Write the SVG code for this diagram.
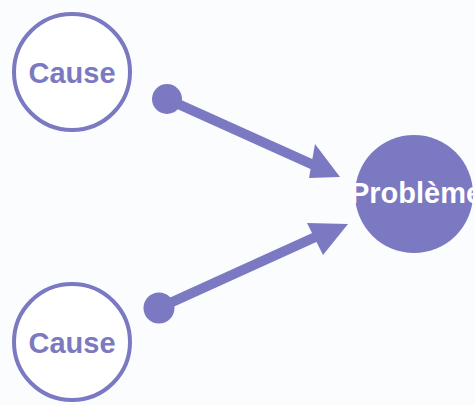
<svg xmlns="http://www.w3.org/2000/svg" width="475" height="405" viewBox="0 0 475 405">
<style>
.cause{fill:#ffffff;stroke:#7b79c1;stroke-width:4}
.lbl{font-family:"Liberation Sans",Arial,sans-serif;font-weight:bold;font-size:29px;text-anchor:middle}
.c{fill:#7b79c1}
.w{fill:#ffffff}
.shaft{stroke:#7b79c1;stroke-width:10;fill:none}
.head{fill:#7b79c1}
</style>
<rect width="475" height="405" fill="#fbfcfe"/>
<g id="cause1">
<circle class="cause" cx="72" cy="72" r="58"/>
<text class="lbl c" x="72" y="83">Cause</text>
</g>
<g id="cause2">
<circle class="cause" cx="72" cy="342" r="58"/>
<text class="lbl c" x="72" y="353">Cause</text>
</g>
<g id="probleme">
<circle cx="414" cy="194" r="59" fill="#7b79c1"/>
<text class="lbl w" x="416" y="203">Problème</text>
</g>
<g id="connectors">
<circle class="head" cx="167" cy="99" r="15"/>
<line class="shaft" x1="167" y1="99" x2="318" y2="167"/>
<polygon class="head" points="315,144 340,177 309,178"/>
<circle class="head" cx="159" cy="308" r="15.5"/>
<line class="shaft" x1="159" y1="308" x2="322" y2="234"/>
<polygon class="head" points="307,223 348,224 323,255"/>
</g>
</svg>
